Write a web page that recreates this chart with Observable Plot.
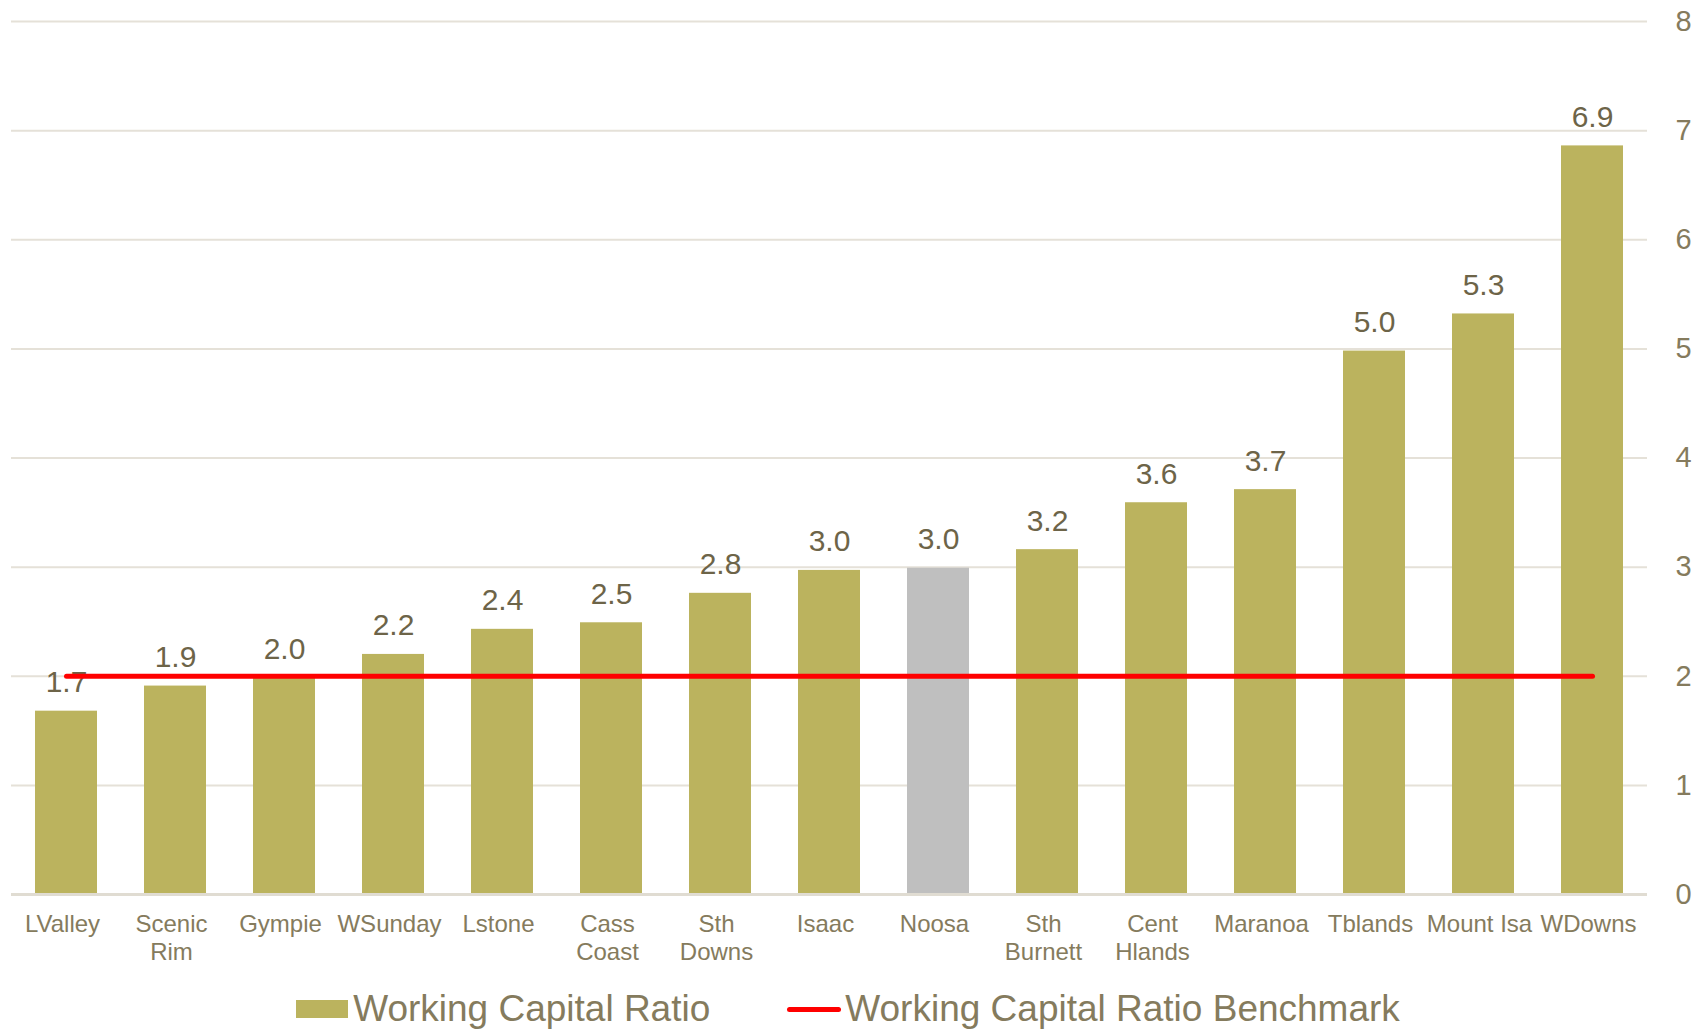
<!DOCTYPE html>
<html>
<head>
<meta charset="utf-8">
<script src="https://cdn.jsdelivr.net/npm/d3@7"></script>
<script src="https://cdn.jsdelivr.net/npm/@observablehq/plot@0.6"></script>
<style>
  html, body { margin: 0; padding: 0; background: #fff; overflow: hidden; }
  body { width: 1704px; height: 1029px; font-family: "Liberation Sans", Arial, sans-serif; }
  #chart svg { display: block; }
  .legend { height: 68px; display: flex; justify-content: center; align-items: center;
            font-size: 37px; color: #857B5D; font-family: "Liberation Sans", Arial, sans-serif;
            padding-right: 8px; }
  .legend .item { display: flex; align-items: center; }
  .legend .sw { width: 52px; height: 18px; background: #BBB35E; margin-right: 5px; }
  .legend .ln { width: 54px; height: 5px; border-radius: 3px; background: #FF0000; margin-right: 4px; }
  .legend .gap { width: 77px; }
</style>
</head>
<body>
<div id="chart"></div>
<div class="legend">
  <div class="item"><div class="sw"></div><span>Working Capital Ratio</span></div>
  <div class="gap"></div>
  <div class="item"><div class="ln"></div><span>Working Capital Ratio Benchmark</span></div>
</div>
<script>
const categories = ["LValley", "Scenic Rim", "Gympie", "WSunday", "Lstone", "Cass Coast", "Sth Downs", "Isaac", "Noosa", "Sth Burnett", "Cent Hlands", "Maranoa", "Tblands", "Mount Isa", "WDowns"];
const ratios = [1.68, 1.91, 1.98, 2.2, 2.43, 2.49, 2.76, 2.97, 2.99, 3.16, 3.59, 3.71, 4.98, 5.32, 6.86];
const benchmark = 2;
const highlighted = "Noosa";
const yTicks = [0, 1, 2, 3, 4, 5, 6, 7, 8];

const gold = "#BBB35E", grey = "#BFBFBF";
const data = categories.map((c, i) => ({cat: c, value: ratios[i]}));
const benchData = categories.map(c => ({cat: c, value: benchmark}));
const tickLabel = d => d === "Mount Isa" ? d : d.replace(" ", "\n");

const chart = Plot.plot({
  width: 1704,
  height: 975,
  marginTop: 21,
  marginBottom: 81,
  marginLeft: 11,
  marginRight: 57,
  style: {fontFamily: "'Liberation Sans', Arial, sans-serif", background: "#fff"},
  x: {domain: categories, paddingInner: 0.43, paddingOuter: 0.215, label: null},
  y: {domain: [0, 8], label: null},
  marks: [
    Plot.gridY(yTicks, {stroke: "#E5E1D8", strokeOpacity: 1, strokeWidth: 2}),
    Plot.barY(data, {x: "cat", y: "value", fill: d => d.cat === highlighted ? grey : gold}),
    Plot.ruleY([0], {stroke: "#E0DCD2", strokeWidth: 3}),
    Plot.axisY(yTicks, {anchor: "right", tickSize: 0, tickPadding: 28, fontSize: 29, fill: "#857B5D", textAnchor: "start", tickFormat: d => String(d), label: null}),
    Plot.axisX({tickSize: 0, tickPadding: 18, fontSize: 24, fill: "#857B5D", lineHeight: 1.15, tickFormat: tickLabel, label: null, dx: -4}),
    Plot.text(data, {x: "cat", y: "value", text: d => d.value.toFixed(1), lineAnchor: "bottom", dy: -19, fontSize: 30, fill: "#6D6448"}),
    Plot.lineY(benchData, {x: "cat", y: "value", stroke: "#FF0000", strokeWidth: 5, strokeLinecap: "round"})
  ]
});
document.getElementById("chart").appendChild(chart);
</script>
</body>
</html>
